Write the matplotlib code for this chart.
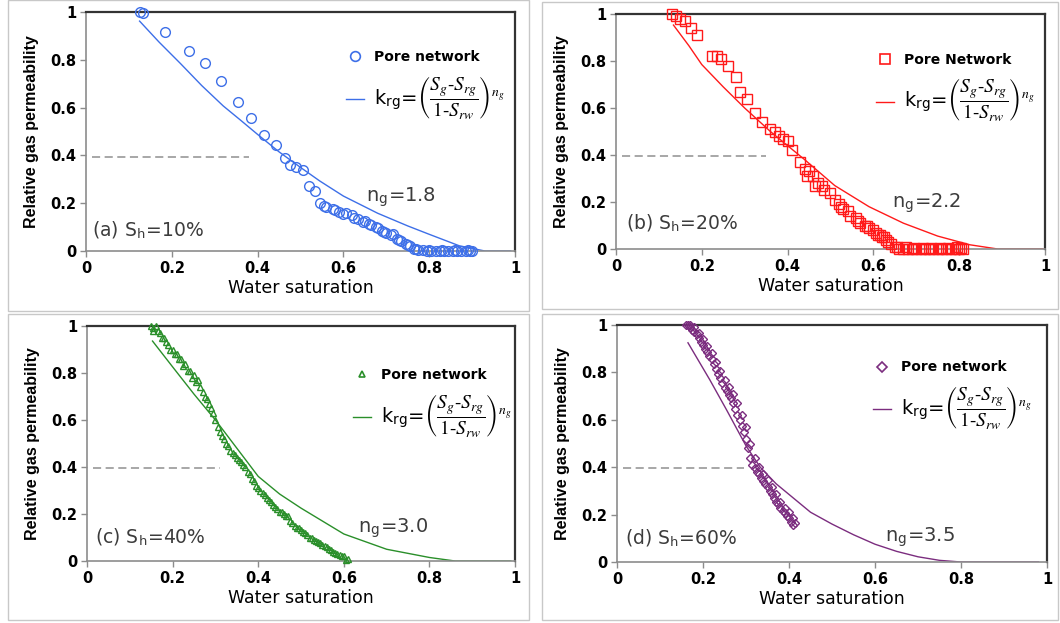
import matplotlib.pyplot as plt
from matplotlib.lines import Line2D
from matplotlib.patches import Rectangle

plt.rcParams['font.family'] = ['DejaVu Sans']
plt.rcParams['mathtext.fontset'] = 'stix'

# ---- data ----
# (a) Sh = 10 %
a_sw = [0.125, 0.132, 0.184, 0.24, 0.277, 0.315, 0.354, 0.385, 0.416, 0.443,
        0.465, 0.475, 0.49, 0.505, 0.52, 0.535, 0.545, 0.56, 0.575, 0.59,
        0.605, 0.62, 0.635, 0.65, 0.665, 0.68, 0.69, 0.70, 0.715, 0.725,
        0.735, 0.745, 0.755, 0.765, 0.775, 0.785, 0.795, 0.805, 0.815, 0.825,
        0.835, 0.845, 0.855, 0.865, 0.875, 0.885, 0.895, 0.90]
a_kr = [1.0, 0.995, 0.918, 0.838, 0.785, 0.713, 0.622, 0.558, 0.485, 0.443,
        0.39, 0.36, 0.35, 0.34, 0.27, 0.25, 0.20, 0.185, 0.175, 0.165,
        0.16, 0.15, 0.135, 0.125, 0.11, 0.095, 0.085, 0.075, 0.07, 0.05,
        0.04, 0.03, 0.02, 0.01, 0.005, 0.003, 0.002, 0.0, 0.0, 0.0,
        0.0, 0.0, 0.0, 0.0, 0.0, 0.0, 0.0, 0.0]
a2_sw = [0.555, 0.58, 0.60, 0.625, 0.645, 0.66, 0.675, 0.695, 0.71, 0.73,
         0.75, 0.77, 0.80, 0.83, 0.86, 0.89]
a2_kr = [0.19, 0.17, 0.155, 0.14, 0.12, 0.115, 0.10, 0.08, 0.065, 0.045,
         0.025, 0.01, 0.005, 0.005, 0.005, 0.005]
a_fit_sw = [0.125, 0.17, 0.22, 0.27, 0.32, 0.36, 0.40, 0.45, 0.50, 0.545,
            0.60, 0.68, 0.75, 0.80, 0.87, 0.93, 0.99]
a_fit_kr = [0.962, 0.875, 0.785, 0.692, 0.607, 0.548, 0.488, 0.415, 0.35, 0.293,
            0.23, 0.158, 0.105, 0.07, 0.022, 0.0, 0.0]

# (b) Sh = 20 %
b_sw = [0.13, 0.14, 0.15, 0.16, 0.175, 0.19, 0.225, 0.235, 0.245, 0.26,
        0.28, 0.29, 0.305, 0.325, 0.34, 0.36, 0.37, 0.38, 0.39, 0.40,
        0.41, 0.43, 0.44, 0.45, 0.46, 0.47, 0.48, 0.50, 0.51, 0.52,
        0.53, 0.54, 0.56, 0.57, 0.58, 0.59, 0.60, 0.61, 0.62, 0.63,
        0.64, 0.65, 0.66, 0.67, 0.68, 0.69, 0.70, 0.71, 0.72, 0.73,
        0.74, 0.75, 0.76, 0.77, 0.78, 0.79, 0.80, 0.81]
b_kr = [1.0, 0.99, 0.98, 0.97, 0.94, 0.91, 0.82, 0.82, 0.81, 0.78,
        0.73, 0.67, 0.64, 0.58, 0.54, 0.51, 0.50, 0.48, 0.47, 0.46,
        0.42, 0.37, 0.34, 0.33, 0.31, 0.28, 0.27, 0.24, 0.21, 0.19,
        0.17, 0.16, 0.13, 0.11, 0.10, 0.09, 0.08, 0.06, 0.05, 0.04,
        0.02, 0.01, 0.0, 0.0, 0.0, 0.0, 0.0, 0.0, 0.0, 0.0,
        0.0, 0.0, 0.0, 0.0, 0.0, 0.0, 0.0, 0.0]
b2_sw = [0.445, 0.465, 0.485, 0.525, 0.545, 0.565, 0.585, 0.605, 0.615, 0.625,
         0.635, 0.655, 0.675, 0.695, 0.715, 0.735, 0.755, 0.775, 0.795, 0.805]
b2_kr = [0.31, 0.27, 0.25, 0.18, 0.14, 0.12, 0.10, 0.07, 0.06, 0.05,
         0.03, 0.01, 0.01, 0.005, 0.005, 0.005, 0.005, 0.005, 0.01, 0.005]
b_fit_sw = [0.134, 0.17, 0.2, 0.25, 0.3, 0.36, 0.44, 0.51, 0.59, 0.67,
            0.75, 0.825, 0.89, 0.995]
b_fit_kr = [0.953, 0.865, 0.785, 0.69, 0.6, 0.50, 0.38, 0.27, 0.18, 0.11,
            0.055, 0.018, 0.0, 0.0]

# (c) Sh = 40 %
c_sw = [0.15, 0.155, 0.16, 0.165, 0.17, 0.18, 0.19, 0.20, 0.21, 0.22,
        0.23, 0.24, 0.25, 0.26, 0.265, 0.27, 0.28, 0.285, 0.29, 0.30,
        0.305, 0.31, 0.32, 0.33, 0.34, 0.35, 0.36, 0.37, 0.38, 0.39,
        0.40, 0.41, 0.42, 0.43, 0.44, 0.45, 0.46, 0.47, 0.48, 0.49,
        0.50, 0.51, 0.52, 0.53, 0.54, 0.55, 0.56, 0.57, 0.58, 0.59,
        0.60, 0.61]
c_kr = [1.0, 0.99, 1.0, 0.98, 0.97, 0.95, 0.92, 0.90, 0.88, 0.86,
        0.84, 0.81, 0.79, 0.77, 0.74, 0.72, 0.69, 0.67, 0.65, 0.60,
        0.57, 0.55, 0.52, 0.49, 0.46, 0.44, 0.42, 0.40, 0.37, 0.34,
        0.31, 0.29, 0.27, 0.25, 0.23, 0.21, 0.20, 0.19, 0.16, 0.14,
        0.13, 0.12, 0.10, 0.09, 0.08, 0.07, 0.06, 0.045, 0.035, 0.025,
        0.02, 0.01]
c2_sw = [0.155, 0.175, 0.185, 0.195, 0.205, 0.215, 0.225, 0.235, 0.245, 0.255,
         0.275, 0.295, 0.315, 0.325, 0.335, 0.345, 0.355, 0.365, 0.375, 0.385,
         0.395, 0.405, 0.415, 0.425, 0.435, 0.445, 0.455, 0.465, 0.475, 0.485,
         0.495, 0.505, 0.515, 0.525, 0.535, 0.545, 0.555, 0.565, 0.575, 0.585,
         0.595, 0.605]
c2_kr = [0.98, 0.95, 0.93, 0.90, 0.88, 0.86, 0.83, 0.81, 0.78, 0.76,
         0.70, 0.63, 0.53, 0.50, 0.47, 0.45, 0.43, 0.41, 0.38, 0.35,
         0.32, 0.30, 0.28, 0.26, 0.24, 0.22, 0.21, 0.19, 0.17, 0.15,
         0.14, 0.125, 0.11, 0.10, 0.085, 0.075, 0.065, 0.05, 0.04, 0.03,
         0.02, 0.005]
c_fit_sw = [0.153, 0.2, 0.25, 0.3, 0.35, 0.4, 0.45, 0.5, 0.6, 0.7,
            0.8, 0.86, 0.99]
c_fit_kr = [0.936, 0.826, 0.71, 0.60, 0.48, 0.36, 0.285, 0.225, 0.115, 0.05,
            0.015, 0.0, 0.0]

# (d) Sh = 60 %
d_sw = [0.16, 0.165, 0.17, 0.175, 0.18, 0.185, 0.19, 0.195, 0.20, 0.205,
        0.21, 0.215, 0.22, 0.225, 0.23, 0.235, 0.24, 0.245, 0.25, 0.255,
        0.26, 0.265, 0.27, 0.275, 0.28, 0.285, 0.29, 0.295, 0.30, 0.305,
        0.31, 0.315, 0.32, 0.325, 0.33, 0.335, 0.34, 0.345, 0.35, 0.355,
        0.36, 0.365, 0.37, 0.375, 0.38, 0.385, 0.39, 0.395, 0.40, 0.405,
        0.41]
d_kr = [1.0, 1.0, 0.99, 0.98, 0.97, 0.96, 0.945, 0.93, 0.915, 0.90,
        0.885, 0.87, 0.855, 0.835, 0.815, 0.795, 0.775, 0.755, 0.735, 0.72,
        0.705, 0.69, 0.67, 0.645, 0.62, 0.60, 0.575, 0.55, 0.52, 0.48,
        0.44, 0.41, 0.395, 0.38, 0.37, 0.355, 0.34, 0.33, 0.315, 0.30,
        0.285, 0.27, 0.255, 0.245, 0.23, 0.215, 0.205, 0.195, 0.185, 0.17,
        0.155]
d2_sw = [0.17, 0.18, 0.19, 0.20, 0.21, 0.22, 0.23, 0.24, 0.25, 0.26,
         0.27, 0.28, 0.29, 0.30, 0.31, 0.32, 0.33, 0.34, 0.35, 0.36,
         0.37, 0.38, 0.39, 0.40, 0.41, 0.415]
d2_kr = [1.0, 0.99, 0.965, 0.94, 0.91, 0.88, 0.845, 0.805, 0.77, 0.74,
         0.71, 0.67, 0.62, 0.57, 0.50, 0.44, 0.40, 0.37, 0.345, 0.315,
         0.285, 0.255, 0.23, 0.21, 0.185, 0.165]
d_fit_sw = [0.165, 0.216, 0.255, 0.30, 0.333, 0.37, 0.4, 0.45, 0.5, 0.55,
            0.6, 0.65, 0.7, 0.75, 0.8, 0.98]
d_fit_kr = [0.925, 0.768, 0.641, 0.49, 0.40, 0.33, 0.285, 0.21, 0.16, 0.115,
            0.075, 0.045, 0.022, 0.007, 0.0, 0.0]

tags = ['(a) S$_\\mathregular{h}$=10%', '(b) S$_\\mathregular{h}$=20%',
        '(c) S$_\\mathregular{h}$=40%', '(d) S$_\\mathregular{h}$=60%']
ng_labels = ['n$_\\mathregular{g}$=1.8', 'n$_\\mathregular{g}$=2.2',
             'n$_\\mathregular{g}$=3.0', 'n$_\\mathregular{g}$=3.5']
legend_names = ['Pore network', 'Pore Network', 'Pore network', 'Pore network']
formula = (r'k$_\mathregular{rg}$=$\left(\dfrac{S_g\text{-}S_{rg}}'
           r'{1\text{-}S_{rw}}\right)^{n_g}$')
ref_kr = 0.395
ref_end = [0.38, 0.35, 0.31, 0.295]
tick_vals = [0, 0.2, 0.4, 0.6, 0.8, 1]
tick_labels = ['0', '0.2', '0.4', '0.6', '0.8', '1']


def draw_panel(ax, sw, kr, fit_sw, fit_kr, color, marker, ms, mleg,
               name, tag, ng, dash_end, tag_xy, ng_xy, leg_xy):
    ax.plot([0.015, dash_end], [ref_kr, ref_kr], color='#a0a0a0', lw=1.3,
            dashes=(4.5, 2.5), zorder=1)
    ax.plot(fit_sw, fit_kr, color=color, lw=1.0, zorder=2)
    ax.plot(sw, kr, ls='none', marker=marker, ms=ms, mfc='none', mec=color,
            mew=1.0, clip_on=False, zorder=3)

    ax.set_xlim(0, 1)
    ax.set_ylim(0, 1)
    ax.set_xticks(tick_vals)
    ax.set_xticklabels(tick_labels)
    ax.set_yticks(tick_vals)
    ax.set_yticklabels(tick_labels)
    ax.tick_params(axis='both', direction='out', length=4, width=1,
                   color='#8c8c8c', labelsize=10.5, pad=3)
    for lab in ax.get_xticklabels() + ax.get_yticklabels():
        lab.set_fontweight('bold')
    for side in ['top', 'right']:
        ax.spines[side].set_color('#333333')
        ax.spines[side].set_linewidth(1.6)
    for side in ['left', 'bottom']:
        ax.spines[side].set_color('#8c8c8c')
        ax.spines[side].set_linewidth(1.2)

    ax.set_xlabel('Water saturation', fontsize=12.5, labelpad=2)
    ax.set_ylabel('Relative gas permeability', fontsize=11.5,
                  fontweight='bold', family='Liberation Sans', labelpad=8)

    ax.text(tag_xy[0], tag_xy[1], tag, fontsize=13.5, color='#3c3c3c',
            va='center', ha='left')
    ax.text(ng_xy[0], ng_xy[1], ng, fontsize=14, color='#3c3c3c',
            va='center', ha='left')

    handles = [Line2D([], [], ls='none', marker=marker, ms=mleg, mfc='none',
                      mec=color, mew=1.2),
               Line2D([], [], color=color, lw=1.0)]
    leg = ax.legend(handles, [name, formula], loc='upper left',
                    bbox_to_anchor=leg_xy, frameon=False, borderpad=0,
                    handlelength=1.3, handletextpad=0.7, labelspacing=0.7,
                    fontsize=10)
    leg.get_texts()[0].set_fontweight('bold')
    leg.get_texts()[1].set_fontsize(14)


fig = plt.figure(figsize=(10.6, 6.23), dpi=100)

# light grey frames round each panel (pixel boxes of the original)
for x0, y0, x1, y1 in [(8, 0, 529, 311), (542, 2, 1058, 309),
                       (8, 314, 529, 620), (542, 314, 1058, 620)]:
    fig.patches.append(Rectangle((x0 / 1060, 1 - y1 / 623), (x1 - x0) / 1060,
                                 (y1 - y0) / 623, transform=fig.transFigure,
                                 fill=False, ec='#c8c8c8', lw=1.0))

ax1 = fig.add_axes([0.0811, 0.5971, 0.4047, 0.3836])
ax2 = fig.add_axes([0.5811, 0.6003, 0.4047, 0.3772])
ax3 = fig.add_axes([0.0821, 0.0995, 0.4038, 0.3772])
ax4 = fig.add_axes([0.5821, 0.0979, 0.4057, 0.3804])

draw_panel(ax1, a_sw + a2_sw, a_kr + a2_kr, a_fit_sw, a_fit_kr, '#3d6fe8',
           'o', 7, 7, legend_names[0], tags[0], ng_labels[0], ref_end[0],
           (0.013, 0.088), (0.653, 0.226), (0.59, 0.87))
draw_panel(ax2, b_sw + b2_sw, b_kr + b2_kr, b_fit_sw, b_fit_kr, '#ff1a1a',
           's', 6.5, 7, legend_names[1], tags[1], ng_labels[1], ref_end[1],
           (0.023, 0.11), (0.643, 0.196), (0.59, 0.865))
draw_panel(ax3, c_sw + c2_sw, c_kr + c2_kr, c_fit_sw, c_fit_kr, '#2a8f2a',
           '^', 4.5, 5, legend_names[2], tags[2], ng_labels[2], ref_end[2],
           (0.019, 0.10), (0.633, 0.14), (0.605, 0.85))
draw_panel(ax4, d_sw + d2_sw, d_kr + d2_kr, d_fit_sw, d_fit_kr, '#7b2d7f',
           'D', 4.5, 5, legend_names[3], tags[3], ng_labels[3], ref_end[3],
           (0.019, 0.10), (0.623, 0.105), (0.58, 0.88))

fig.savefig('out.png', dpi=100)
plt.close()
